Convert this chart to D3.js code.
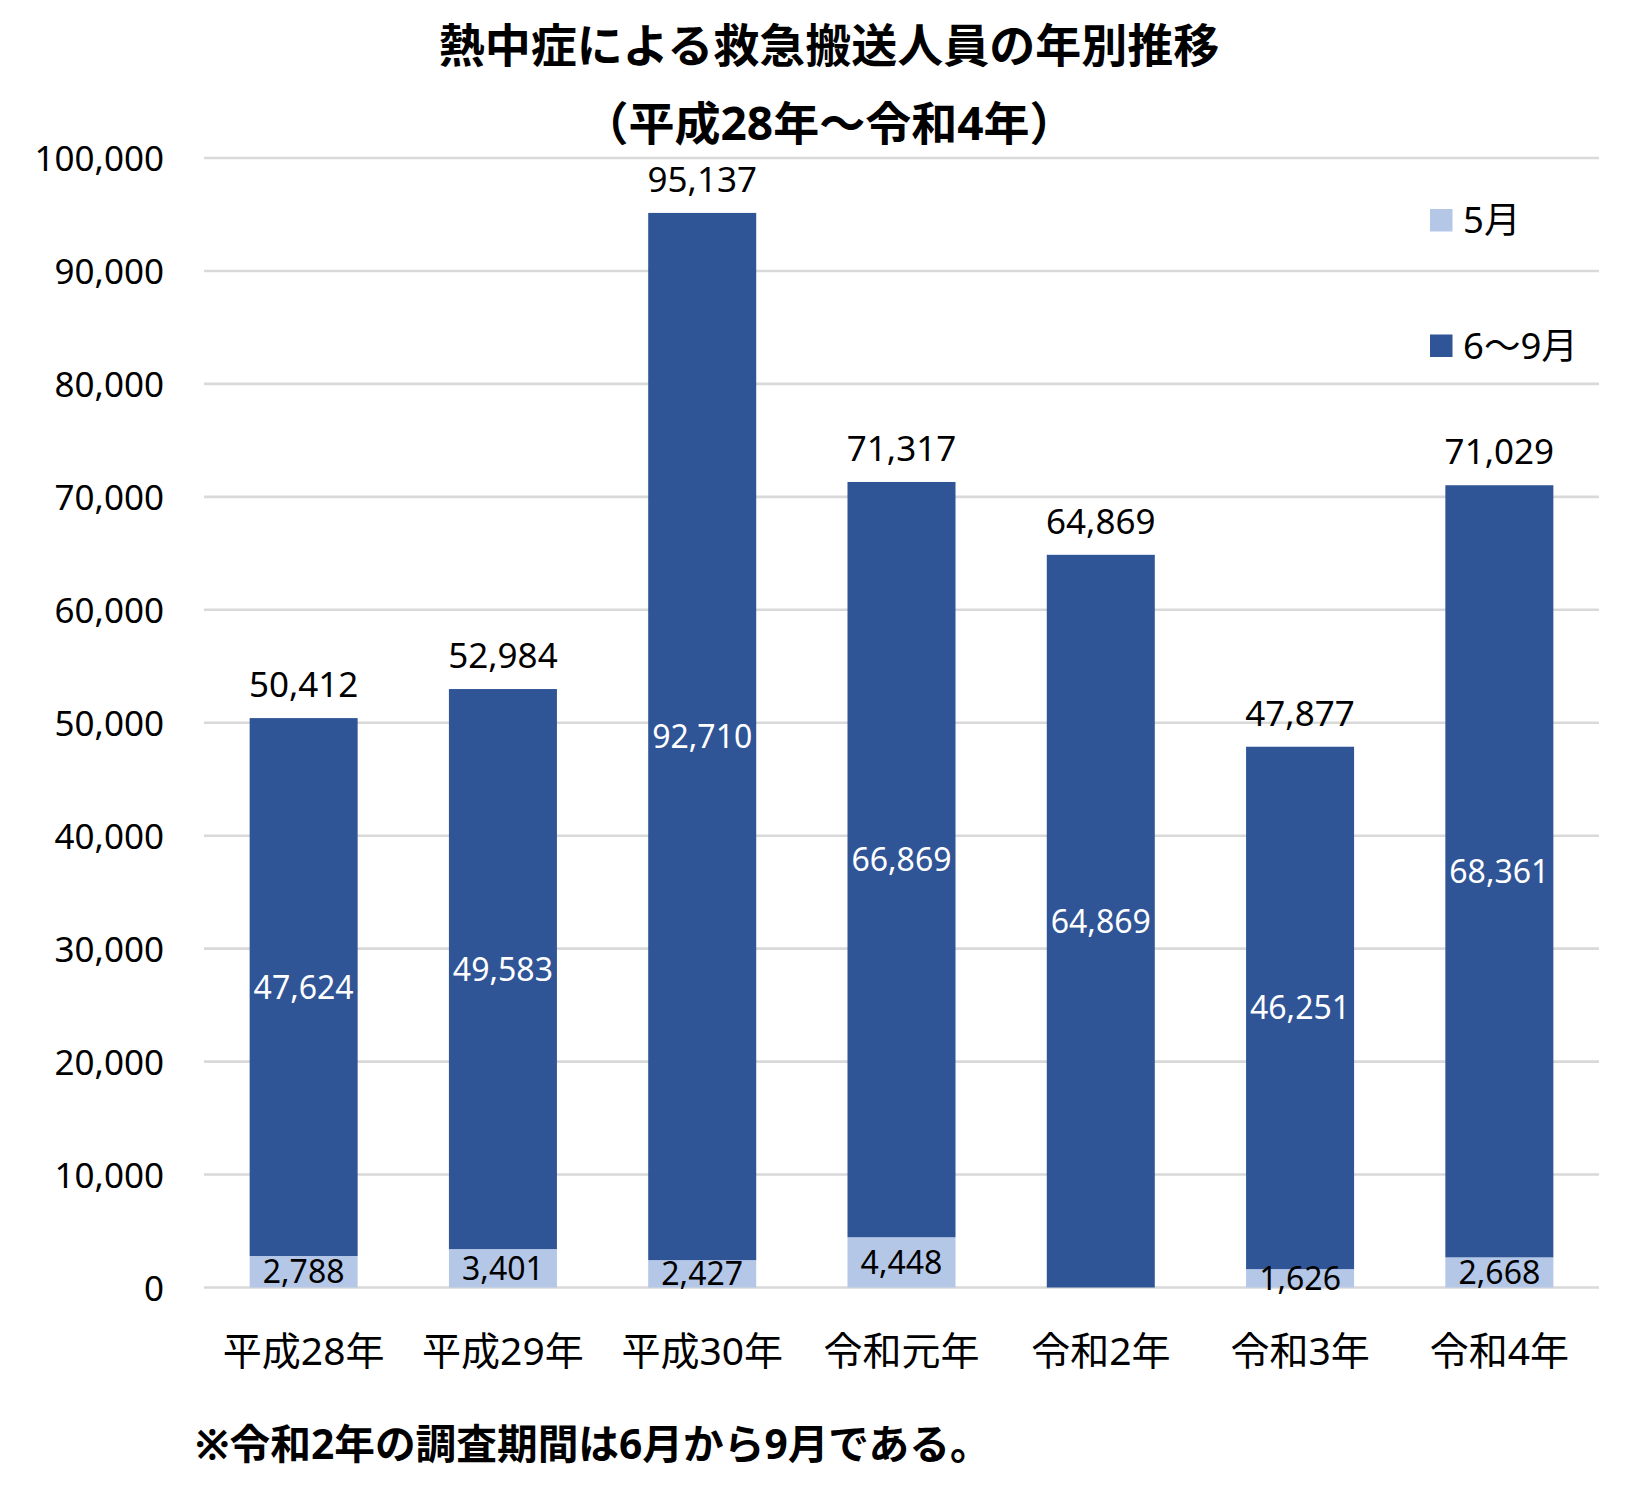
<!DOCTYPE html>
<html><head><meta charset="utf-8">
<script src="https://cdn.jsdelivr.net/npm/d3@7"></script>
<style>
html,body{margin:0;padding:0;background:#fff;}
svg{display:block;}
text{font-family:"Noto Sans","Noto Sans CJK JP",sans-serif;}
</style></head>
<body>
<svg id="chart" width="1650" height="1509"></svg>
<script>
const titleLines = ["熱中症による救急搬送人員の年別推移", "（平成28年～令和4年）"];
const footnote = "※令和2年の調査期間は6月から9月である。";
const categories = ["平成28年","平成29年","平成30年","令和元年","令和2年","令和3年","令和4年"];
const seriesNames = ["5月","6～9月"];
const may = [2788, 3401, 2427, 4448, null, 1626, 2668];
const junSep = [47624, 49583, 92710, 66869, 64869, 46251, 68361];
const yTicks = [0,10000,20000,30000,40000,50000,60000,70000,80000,90000,100000];
const colors = ["#B4C7E7","#2F5597"];

const svg = d3.select("#chart");
const fmt = d3.format(",");

const data = categories.map((c,i)=>({cat:c, may:may[i], jun:junSep[i]}));
const stack = d3.stack().keys(["may","jun"]).value((d,k)=>d[k]==null?0:d[k]);
const layers = stack(data);

const x = d3.scaleBand().domain(categories).range([204,1599]).paddingInner(0.458).paddingOuter(0.229);
const y = d3.scaleLinear().domain([0,100000]).range([1287.5,158]);

// gridlines
svg.append("g").selectAll("line").data(yTicks).join("line")
  .attr("x1",204).attr("x2",1599)
  .attr("y1",d=>y(d)).attr("y2",d=>y(d))
  .attr("stroke","#D9D9D9").attr("stroke-width",2.6);

// y axis labels
const yAxis = d3.axisLeft(y).tickValues(yTicks).tickFormat(fmt).tickSize(0).tickPadding(0);
const ya = svg.append("g").attr("transform","translate(164,0)").call(yAxis);
ya.select(".domain").remove();
ya.selectAll("text").attr("font-size",35).attr("fill","#000")
  .attr("font-family","'Noto Sans','Noto Sans CJK JP',sans-serif")
  .attr("dy",null).attr("y",12.5);

// x axis labels
const xAxis = d3.axisBottom(x).tickSize(0).tickPadding(0);
const xa = svg.append("g").attr("transform","translate(0,1287.5)").call(xAxis);
xa.select(".domain").remove();
xa.selectAll("text").attr("font-size",39).attr("fill","#000")
  .attr("font-family","'Noto Sans','Noto Sans CJK JP',sans-serif")
  .attr("dy",null).attr("y",77.5);

// bars
const g = svg.append("g");
layers.forEach((layer,li)=>{
  g.append("g").selectAll("rect").data(layer).join("rect")
    .attr("x",d=>x(d.data.cat))
    .attr("width",x.bandwidth())
    .attr("y",d=>y(d[1]))
    .attr("height",d=>y(d[0])-y(d[1]))
    .attr("fill",colors[li]);
});

// segment labels
layers.forEach((layer,li)=>{
  const key = layer.key;
  g.append("g").selectAll("text").data(layer.filter(d=>d.data[key]!=null)).join("text")
    .attr("x",d=>x(d.data.cat)+x.bandwidth()/2)
    .attr("y",d=>(y(d[0])+y(d[1]))/2 + 11.5)
    .attr("text-anchor","middle")
    .attr("font-size",32)
    .attr("fill", li===0 ? "#000" : "#fff")
    .text(d=>fmt(d.data[key]));
});

// totals
const topLayer = layers[layers.length-1];
g.append("g").selectAll("text").data(topLayer).join("text")
  .attr("x",d=>x(d.data.cat)+x.bandwidth()/2)
  .attr("y",d=>y(d[1]) - 21)
  .attr("text-anchor","middle")
  .attr("font-size",35)
  .attr("fill","#000")
  .text(d=>fmt(d[1]));

// legend
const leg = svg.append("g");
seriesNames.forEach((s,i)=>{
  const cy = 220 + i*125.5;
  leg.append("rect").attr("x",1430).attr("y",cy-11).attr("width",22.5).attr("height",22.5).attr("fill",colors[i]);
  leg.append("text").attr("x",1463).attr("y",cy+13).attr("font-size",36.5).attr("fill","#000").text(s);
});

// title
svg.append("g").selectAll("text").data(titleLines).join("text")
  .attr("x",829).attr("y",(d,i)=>62+i*78)
  .attr("text-anchor","middle")
  .attr("font-size",46).attr("font-weight","bold").attr("fill","#000")
  .text(d=>d);

// footnote
svg.append("text").attr("x",195).attr("y",1459)
  .attr("font-size",40.7).attr("font-weight","bold").attr("fill","#000")
  .text(footnote);
</script>
</body></html>
